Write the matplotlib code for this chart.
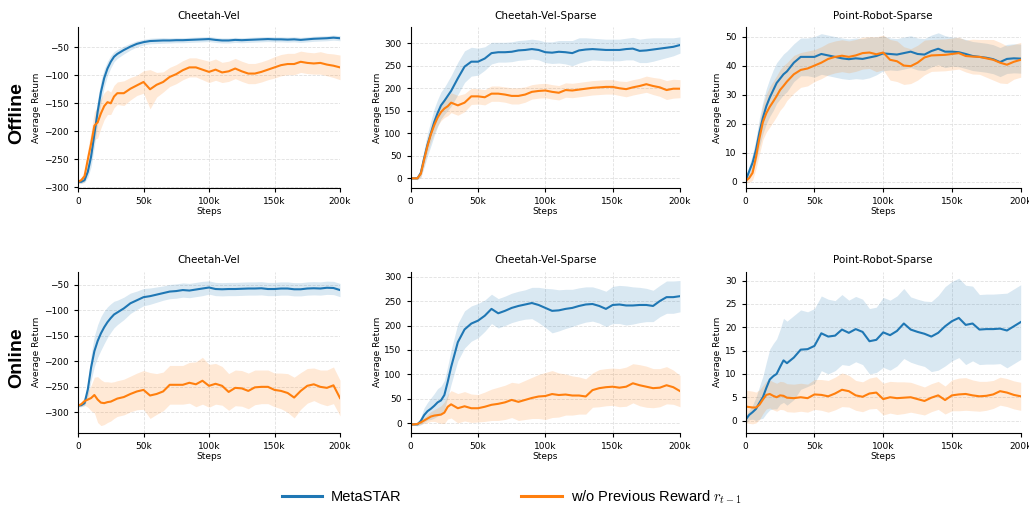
import matplotlib
matplotlib.use("Agg")
import matplotlib.pyplot as plt
from matplotlib.ticker import FuncFormatter
import numpy as np

plt.rcParams['font.family'] = ['DejaVu Sans']
plt.rcParams['mathtext.fontset'] = 'cm'

# ---------------- data ----------------
steps_k = [0, 2.5, 5, 7.5, 10, 12.5, 15, 17.5, 20, 22.5, 25, 27.5, 30,
           35, 40, 45, 50, 55, 60, 65, 70, 75, 80,
           85, 90, 95, 100, 105, 110, 115, 120, 125, 130,
           135, 140, 145, 150, 155, 160, 165, 170, 175, 180,
           185, 190, 195, 200]

row_labels = ["Offline", "Online"]
titles = ["Cheetah-Vel", "Cheetah-Vel-Sparse", "Point-Robot-Sparse"]
series_names = ["MetaSTAR", r"w/o Previous Reward $r_{t-1}$"]
x_tick_values = [0, 50000, 100000, 150000, 200000]

# Offline Cheetah-Vel
off_cv_meta = [-290, -290, -287, -272, -245, -205, -165, -130, -105, -88, -76, -67, -62,
               -55, -49, -44, -41, -39, -38.5, -38, -38, -37.5, -37.5,
               -37, -36.5, -36, -35.5, -37, -38, -38, -37, -37.5, -37,
               -36.5, -36, -35.5, -36, -36, -36.5, -36, -37, -36, -35,
               -34.5, -34, -33, -34]
off_cv_meta_sd = [3, 3, 4, 10, 18, 22, 22, 20, 16, 13, 11, 9, 8,
                  7, 6, 5.5, 5, 5, 5, 5, 4.5, 4.5, 4.5,
                  4.5, 4.5, 4.5, 4.5, 4.5, 4.5, 4.5, 4.5, 4.5, 4.5,
                  4.5, 4.5, 4.5, 4.5, 4.5, 4.5, 4.5, 4.5, 4.5, 4.5,
                  4.5, 4.5, 4.5, 4.5]
off_cv_wo = [-290, -287, -280, -250, -222, -190, -184, -168, -155, -148, -150, -138, -132,
             -132, -124, -118, -112, -125, -117, -112, -103, -98, -91,
             -86, -86, -90, -94, -90, -95, -93, -88, -93, -97,
             -97, -94, -90, -86, -82, -80, -80, -76, -78, -79,
             -78, -81, -83, -86]
off_cv_wo_sd = [3, 5, 10, 18, 22, 25, 28, 26, 24, 22, 20, 20, 20,
                22, 20, 18, 20, 35, 22, 18, 17, 17, 17,
                17, 17, 18, 19, 19, 18, 18, 18, 18, 18,
                18, 18, 18, 19, 19, 19, 19, 19, 19, 19,
                20, 20, 21, 22]

# Offline Cheetah-Vel-Sparse
off_cvs_meta = [0, 0, 0, 12, 45, 75, 100, 125, 145, 162, 172, 183, 194,
                222, 248, 259, 259, 266, 278, 280, 280, 281, 284,
                285, 287, 285, 280, 279, 281, 280, 278, 284, 286,
                287, 286, 285, 285, 285, 287, 288, 283, 284, 286,
                288, 290, 292, 296]
off_cvs_meta_sd = [2, 2, 3, 10, 20, 25, 28, 30, 30, 30, 30, 32, 34,
                   36, 35, 32, 30, 26, 24, 22, 22, 22, 22,
                   22, 22, 22, 23, 24, 25, 26, 28, 28, 26,
                   24, 24, 24, 24, 24, 24, 25, 26, 27, 26,
                   24, 22, 20, 18]
off_cvs_wo = [0, 0, 0, 10, 42, 72, 98, 118, 135, 147, 155, 160, 168,
              162, 168, 182, 182, 180, 188, 188, 186, 183, 183,
              186, 192, 194, 195, 192, 190, 196, 195, 197, 199,
              201, 202, 203, 203, 200, 198, 202, 205, 209, 205,
              202, 196, 199, 199]
off_cvs_wo_sd = [2, 2, 3, 8, 12, 14, 16, 17, 18, 19, 20, 21, 22,
                 22, 20, 18, 17, 17, 17, 17, 17, 18, 18,
                 17, 16, 16, 16, 16, 16, 16, 16, 16, 16,
                 16, 16, 16, 16, 16, 17, 17, 17, 18, 19,
                 20, 21, 21, 20]

# Offline Point-Robot-Sparse
off_prs_meta = [0.5, 3.5, 6.5, 11, 17, 22, 26, 29, 31.5, 34, 35.5, 37, 38,
                41, 43, 43, 43, 44, 43.5, 43, 42.5, 42.2, 42.5,
                42.3, 42.8, 43.3, 44.2, 44, 43.8, 44.3, 44.8, 44, 43.8,
                45, 45.8, 44.8, 44.8, 44.6, 44, 43.3, 43, 42.7, 42.2,
                41.2, 42.3, 42.5, 42.4]
off_prs_meta_sd = [1, 2, 3, 4, 5, 5.5, 6, 6.5, 7, 7, 7, 7, 7,
                   6.5, 6.5, 6.5, 7, 7, 7, 7, 7, 7, 7,
                   7, 7, 6.5, 6, 5.5, 5.5, 5.5, 5.5, 5.5, 5.5,
                   5.5, 5.5, 5.5, 5, 5, 5, 5, 5, 5, 5,
                   5, 5, 5, 5]
off_prs_wo = [0.3, 1.2, 3, 8.5, 15, 20.5, 23.6, 25.8, 27.6, 29.5, 31.6, 33, 34.5,
              37, 38.5, 39, 40, 41, 42.3, 43, 43.4, 43, 43.5,
              44.3, 44.5, 43.9, 44.5, 42, 41.5, 40, 39.8, 41, 42.8,
              43.5, 43.6, 43.7, 44, 44.3, 43.3, 43.1, 43, 42.5, 42,
              41, 40.3, 41.3, 42]
off_prs_wo_sd = [0.5, 1.5, 2.5, 4, 5.5, 6, 6.5, 7, 7, 7, 7, 7, 6.5,
                 6.5, 6, 6, 5.5, 5.5, 5.5, 5.5, 5.5, 5.5, 5.5,
                 5.5, 5.5, 6, 6, 7, 7, 6.5, 6, 6, 6,
                 5.5, 5.5, 5.5, 5.5, 5.5, 5.5, 6, 6, 6.5, 7,
                 7, 6.5, 6, 6]

# Online Cheetah-Vel
on_cv_meta = [-287, -286, -282, -255, -212, -180, -160, -145, -133, -123, -115, -108, -104,
              -96, -86, -80, -74, -72, -69, -66, -63, -62, -60,
              -61, -59, -57, -55, -58, -58.5, -58, -58, -57.5, -57,
              -57, -56.5, -58, -58, -57, -57, -58.5, -58.5, -57, -56.5,
              -57, -55.5, -56, -60]
on_cv_meta_sd = [3, 3, 5, 15, 25, 30, 32, 33, 32, 30, 28, 26, 24,
                 22, 20, 18, 17, 16, 15, 14, 14, 14, 14,
                 14, 14, 14, 13, 13, 13, 13, 13, 13, 13,
                 13, 13, 13, 13, 13, 13, 13, 13, 13, 13,
                 13, 13, 13, 13]
on_cv_wo = [-287, -284, -278, -275, -272, -266, -275, -281, -282, -280, -279, -276, -273,
            -270, -264, -259, -256, -267, -264, -259, -246, -246, -246,
            -242, -245, -238, -248, -244, -248, -260, -252, -253, -258,
            -251, -250, -250, -256, -258, -262, -271, -258, -248, -245,
            -250, -252, -247, -272]
on_cv_wo_sd = [2, 4, 8, 15, 25, 35, 45, 45, 42, 40, 38, 36, 35,
               35, 35, 36, 38, 45, 40, 38, 38, 38, 38,
               40, 44, 46, 42, 40, 38, 36, 35, 35, 35,
               34, 33, 33, 33, 35, 38, 40, 36, 34, 32,
               33, 35, 36, 35]

# Online Cheetah-Vel-Sparse
on_cvs_meta = [-2, -2, -2, 5, 17, 25, 30, 36, 43, 47, 58, 85, 115,
               166, 192, 204, 210, 220, 234, 225, 230, 236, 240,
               243, 246, 242, 236, 230, 231, 234, 236, 240, 243,
               244, 240, 234, 242, 243, 241, 241, 242, 242, 240,
               250, 258, 258, 260]
on_cvs_meta_sd = [2, 2, 3, 8, 15, 18, 22, 25, 28, 29, 30, 32, 35,
                  38, 38, 36, 35, 32, 30, 30, 30, 30, 30,
                  30, 32, 36, 40, 45, 42, 40, 38, 37, 36,
                  35, 35, 36, 38, 39, 40, 38, 36, 34, 32,
                  32, 33, 33, 32]
on_cvs_wo = [-2, -2, -1, 2, 6, 10, 14, 16, 17, 18, 22, 34, 39,
             31, 35, 31, 31, 34, 38, 40, 43, 48, 44,
             48, 52, 55, 56, 60, 58, 59, 57, 57, 55,
             68, 72, 74, 75, 73, 75, 82, 78, 75, 72,
             73, 78, 74, 66]
on_cvs_wo_sd = [2, 2, 3, 4, 6, 8, 10, 12, 15, 18, 22, 25, 28,
                30, 30, 29, 28, 30, 32, 34, 35, 36, 38,
                40, 42, 45, 48, 48, 45, 42, 40, 38, 36,
                35, 38, 38, 38, 39, 40, 40, 42, 42, 40,
                39, 38, 35, 32]

# Online Point-Robot-Sparse
on_prs_meta = [0.2, 1.2, 1.8, 2.5, 3.8, 5, 7, 8.8, 9.5, 10, 11.5, 12.9, 12.3,
               13.5, 15.2, 15.3, 16, 18.7, 18, 18.2, 19.5, 18.8, 19.6,
               19, 17, 17.3, 18.9, 18.3, 19.2, 20.8, 19.5, 19, 18.6,
               18, 18.8, 20.2, 21.3, 22, 20.5, 20.8, 19.5, 19.6, 19.6,
               19.7, 19.3, 20.2, 21.1]
on_prs_meta_sd = [0.8, 1, 1.5, 2.5, 3.5, 4.5, 5.5, 6.5, 7, 7.5, 8, 9, 9,
                  9, 8.5, 8, 8, 8, 8, 7.5, 7.5, 7, 7,
                  7, 7, 7, 7.5, 7.5, 7.5, 7.5, 7, 7, 7,
                  7.5, 8, 8.5, 8.5, 8.5, 8.5, 8, 7.5, 7.5, 7.5,
                  7.5, 8, 8, 8]
on_prs_wo = [3, 2.9, 2.8, 2.8, 3.4, 4.5, 5.5, 5.7, 5.3, 5, 5.4, 5.3, 4.9,
             4.8, 5, 4.8, 5.6, 5.5, 5.2, 5.8, 6.6, 6.3, 5.4,
             5.1, 5.8, 6, 4.6, 5, 4.8, 4.9, 5, 4.6, 4.2,
             4.9, 5.4, 4.4, 5.4, 5.6, 5.7, 5.4, 5.2, 5.3, 5.6,
             6.3, 6, 5.5, 5.2]
on_prs_wo_sd = [3.5, 3.5, 3.5, 3.3, 3.2, 3, 3, 3, 3, 3, 3, 3, 3,
                3, 3, 3, 3.2, 3.3, 3.4, 3.5, 3.6, 3.4, 3.2,
                3.2, 3.3, 3.4, 3.4, 3.4, 3.5, 3.4, 3.2, 3.1, 3,
                3, 3, 3, 3.3, 3.5, 3.5, 3.3, 3.2, 3.1, 3,
                3, 3, 3, 3]

panels = [
    [(off_cv_meta, off_cv_meta_sd, off_cv_wo, off_cv_wo_sd),
     (off_cvs_meta, off_cvs_meta_sd, off_cvs_wo, off_cvs_wo_sd),
     (off_prs_meta, off_prs_meta_sd, off_prs_wo, off_prs_wo_sd)],
    [(on_cv_meta, on_cv_meta_sd, on_cv_wo, on_cv_wo_sd),
     (on_cvs_meta, on_cvs_meta_sd, on_cvs_wo, on_cvs_wo_sd),
     (on_prs_meta, on_prs_meta_sd, on_prs_wo, on_prs_wo_sd)],
]

y_limits = [[(-301, -14), (-21.5, 336), (-2.2, 53.3)],
            [(-340, -24), (-19, 310), (-2.6, 31.9)]]

# ---------------- layout ----------------
W, H = 1029, 508
fig = plt.figure(figsize=(W / 100, H / 100), dpi=100)

col_px = [(78, 340), (410.7, 680), (745.7, 1020.7)]
row_px = [(27, 188), (271.7, 432.7)]

colors = ["#1f77b4", "#ff7f0e"]
x = np.array(steps_k) * 1000

kfmt = FuncFormatter(lambda v, p: "0" if v == 0 else f"{int(v/1000)}k")

handles = []
for r in range(2):
    for c in range(3):
        l, rr = col_px[c]
        t, b = row_px[r]
        ax = fig.add_axes([l / W, 1 - b / H, (rr - l) / W, (b - t) / H])
        m1, s1, m2, s2 = panels[r][c]
        for (m, s, col) in [(m1, s1, colors[0]), (m2, s2, colors[1])]:
            m = np.array(m, dtype=float)
            s = np.array(s, dtype=float)
            ax.fill_between(x, m - s, m + s, color=col, alpha=0.17, lw=0)
        h1, = ax.plot(x, m1, color=colors[0], lw=1.5)
        h2, = ax.plot(x, m2, color=colors[1], lw=1.5)
        if r == 0 and c == 0:
            handles = [h1, h2]
        ax.set_xlim(0, 200000)
        ax.set_ylim(*y_limits[r][c])
        ax.set_xticks(x_tick_values)
        ax.xaxis.set_major_formatter(kfmt)
        ax.tick_params(labelsize=6.5, length=3, width=0.8)
        ax.grid(True, ls='--', lw=0.6, color='#dddddd', alpha=0.9)
        ax.set_axisbelow(True)
        for sp in ['top', 'right']:
            ax.spines[sp].set_visible(False)
        ax.set_title(titles[c], fontsize=7.5, pad=6)
        ax.set_xlabel("Steps", fontsize=6.5, labelpad=1)
        ax.set_ylabel("Average Return", fontsize=6.5, labelpad=2)

fig.text(17 / W, 1 - 113 / H, row_labels[0], rotation=90, ha='center', va='center',
         fontsize=14, fontweight='bold', family=['Liberation Sans', 'DejaVu Sans'])
fig.text(17 / W, 1 - 358 / H, row_labels[1], rotation=90, ha='center', va='center',
         fontsize=14, fontweight='bold', family=['Liberation Sans', 'DejaVu Sans'])

leg = fig.legend(handles, series_names, loc='center', bbox_to_anchor=(0.497, 1 - 497 / H),
                 ncol=2, frameon=False, handlelength=2.8, handletextpad=0.6,
                 columnspacing=8.2, prop={'family': ['Liberation Sans', 'DejaVu Sans'], 'size': 10.5})
for lh in leg.get_lines():
    lh.set_linewidth(2.2)

fig.savefig("out.png", dpi=100)
